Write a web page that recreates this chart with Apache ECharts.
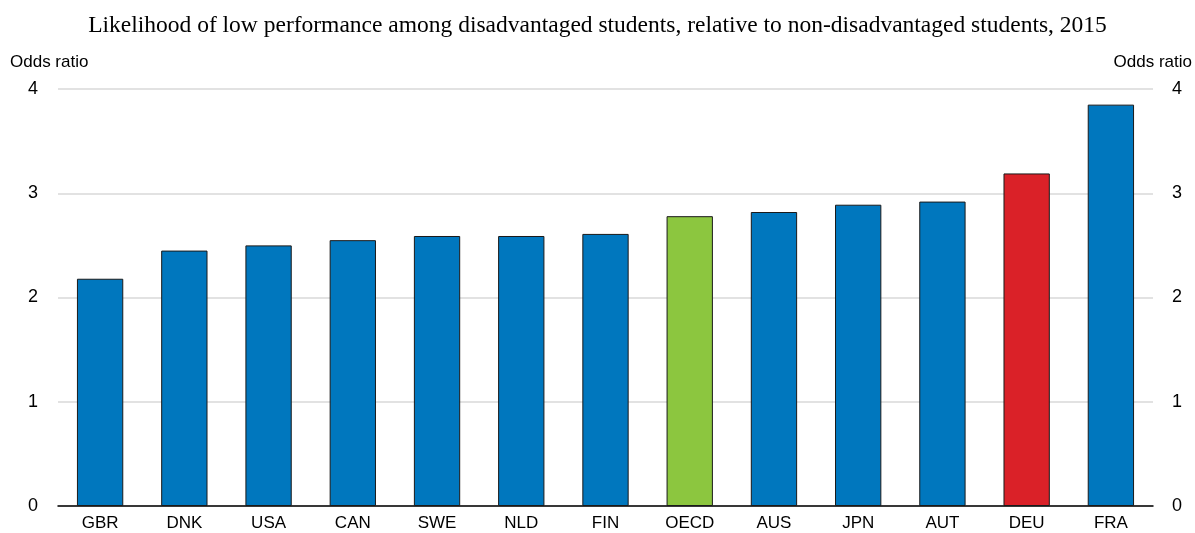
<!DOCTYPE html>
<html><head><meta charset="utf-8">
<script src="https://cdn.jsdelivr.net/npm/echarts@6/dist/echarts.min.js"></script>
<style>html,body{margin:0;padding:0;background:#fff}#c{width:1195px;height:533px}</style>
</head><body><div id="c"></div>
<script>
const categories = ['GBR','DNK','USA','CAN','SWE','NLD','FIN','OECD','AUS','JPN','AUT','DEU','FRA'];
const values = [2.18,2.45,2.50,2.55,2.59,2.59,2.61,2.78,2.82,2.89,2.92,3.19,3.85];
const barColors = {default:'#0077BE', OECD:'#8CC63F', DEU:'#DA2128'};
const yTicks = [0,1,2,3,4];
const titleText = 'Likelihood of low performance among disadvantaged students, relative to non-disadvantaged students, 2015';
const axisName = 'Odds ratio';

const font = '"Liberation Sans Narrow","Arial Narrow","Liberation Sans",sans-serif';
const chart = echarts.init(document.getElementById('c'), null, {renderer:'canvas'});
const yAxisBase = {
  type:'value', min:yTicks[0], max:yTicks[yTicks.length-1], interval:1,
  axisLine:{show:false}, axisTick:{show:false},
  splitLine:{show:true, lineStyle:{color:'#d9d9d9', width:1.5}},
  axisLabel:{color:'#000', fontFamily:font, fontSize:18},
  name: axisName, nameGap: 18,
  nameTextStyle:{color:'#000', fontFamily:font, fontSize:17}
};
chart.setOption({
  animation:false,
  title:{text:titleText, left:'center', top:9,
    textStyle:{fontFamily:'"Liberation Serif","Times New Roman",serif', fontWeight:'normal', fontSize:23.5, color:'#000'}},
  grid:{left:58, right:41, top:89, bottom:27, containLabel:false},
  xAxis:{type:'category', data:categories,
    axisLine:{lineStyle:{color:'#000', width:1.5}}, axisTick:{show:false},
    axisLabel:{color:'#000', fontFamily:font, fontSize:17, margin:9}},
  yAxis:[
    Object.assign({}, yAxisBase, {position:'left', axisLabel:Object.assign({}, yAxisBase.axisLabel,{margin:20}),
      nameTextStyle:Object.assign({}, yAxisBase.nameTextStyle,{align:'left', padding:[0,0,0,-48]})}),
    Object.assign({}, yAxisBase, {position:'right', splitLine:{show:false}, axisLabel:Object.assign({}, yAxisBase.axisLabel,{margin:19}),
      nameTextStyle:Object.assign({}, yAxisBase.nameTextStyle,{align:'right', padding:[0,-39,0,0]})})
  ],
  series:[{
    type:'bar', yAxisIndex:0, barWidth:'55%',
    data: categories.map((c,i)=>({value:values[i], itemStyle:{color: barColors[c] || barColors.default}})),
    itemStyle:{borderColor:'#1a1a1a', borderWidth:1}
  }]
});
</script></body></html>
